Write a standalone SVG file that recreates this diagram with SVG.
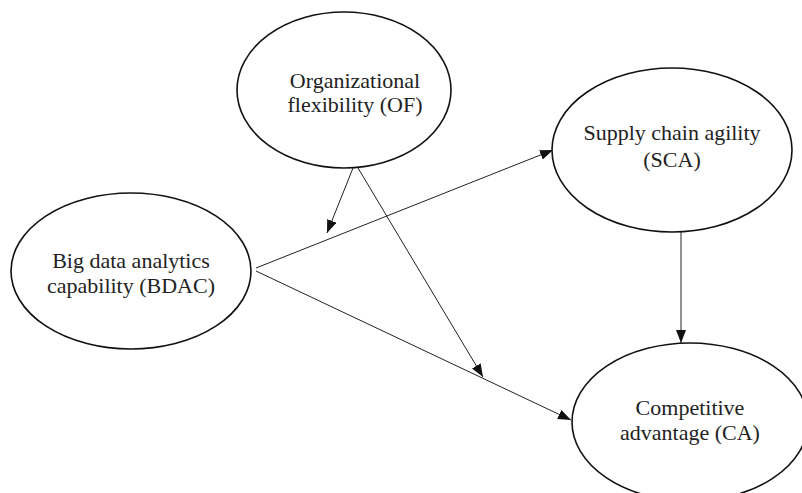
<svg xmlns="http://www.w3.org/2000/svg" width="802" height="493" viewBox="0 0 802 493">
<style>
.n ellipse{fill:#fff;stroke:#111;stroke-width:1.6}
.n text{font-family:"Liberation Serif","Times New Roman",serif;font-size:22px;fill:#222;text-anchor:middle}
.c line{stroke:#222;stroke-width:1}
</style>
<defs>
<marker id="ah" markerUnits="userSpaceOnUse" markerWidth="14" markerHeight="12" refX="13" refY="5" orient="auto">
<path d="M0,0 L13,5 L0,10 Z" fill="#111"/>
</marker>
</defs>
<rect width="802" height="493" fill="#fff"/>
<g class="c" id="connectors">
<line x1="256" y1="268" x2="553" y2="150" marker-end="url(#ah)"/>
<line x1="256" y1="271" x2="571" y2="420" marker-end="url(#ah)"/>
<line x1="353" y1="168" x2="327" y2="233" marker-end="url(#ah)"/>
<line x1="358" y1="168" x2="483" y2="377" marker-end="url(#ah)"/>
<line x1="681" y1="232" x2="681" y2="343" marker-end="url(#ah)"/>
</g>
<g class="n" id="of">
<ellipse cx="344" cy="90" rx="107" ry="78"/>
<text x="355" y="88">Organizational</text>
<text x="355" y="112">flexibility (OF)</text>
</g>
<g class="n" id="bdac">
<ellipse cx="131" cy="271" rx="120" ry="78"/>
<text x="131" y="268">Big data analytics</text>
<text x="131" y="293">capability (BDAC)</text>
</g>
<g class="n" id="sca">
<ellipse cx="672" cy="150" rx="120" ry="82"/>
<text x="672" y="140">Supply chain agility</text>
<text x="672" y="167">(SCA)</text>
</g>
<g class="n" id="ca">
<ellipse cx="690" cy="422" rx="118" ry="79"/>
<text x="690" y="415">Competitive</text>
<text x="690" y="440">advantage (CA)</text>
</g>
</svg>
